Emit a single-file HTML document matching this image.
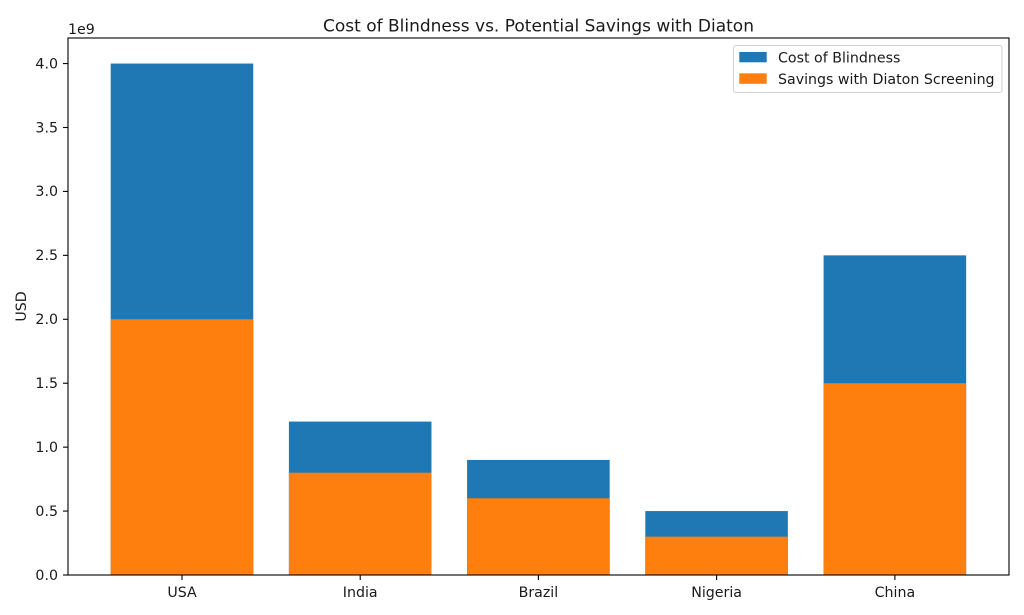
<!DOCTYPE html>
<html>
<head>
<meta charset="utf-8">
<style>
  html,body{margin:0;padding:0;background:#fff;}
  svg{display:block;}
  text{font-family:"DejaVu Sans","Liberation Sans",sans-serif;fill:#1a1a1a;}
</style>
</head>
<body>
<svg width="1024" height="615" viewBox="0 0 1024 615" xmlns="http://www.w3.org/2000/svg">
  <rect width="1024" height="615" fill="#fff"/>
  <!-- bars: cost -->
  <g fill="#1f77b4">
    <rect x="110.7" y="63.56" width="142.56" height="511.44"/>
    <rect x="288.9" y="421.57" width="142.56" height="153.43"/>
    <rect x="467.1" y="459.93" width="142.56" height="115.07"/>
    <rect x="645.3" y="511.07" width="142.56" height="63.93"/>
    <rect x="823.6" y="255.35" width="142.56" height="319.65"/>
  </g>
  <!-- bars: savings -->
  <g fill="#ff7f0e">
    <rect x="110.7" y="319.28" width="142.56" height="255.72"/>
    <rect x="288.9" y="472.71" width="142.56" height="102.29"/>
    <rect x="467.1" y="498.28" width="142.56" height="76.72"/>
    <rect x="645.3" y="536.64" width="142.56" height="38.36"/>
    <rect x="823.6" y="383.21" width="142.56" height="191.79"/>
  </g>
  <!-- axes frame -->
  <rect x="68" y="38" width="941" height="537" fill="none" stroke="#000" stroke-width="1.1"/>
  <!-- y ticks -->
  <g stroke="#000" stroke-width="1.1">
    <line x1="63" y1="575" x2="68" y2="575"/>
    <line x1="63" y1="511.07" x2="68" y2="511.07"/>
    <line x1="63" y1="447.14" x2="68" y2="447.14"/>
    <line x1="63" y1="383.21" x2="68" y2="383.21"/>
    <line x1="63" y1="319.28" x2="68" y2="319.28"/>
    <line x1="63" y1="255.35" x2="68" y2="255.35"/>
    <line x1="63" y1="191.42" x2="68" y2="191.42"/>
    <line x1="63" y1="127.49" x2="68" y2="127.49"/>
    <line x1="63" y1="63.56" x2="68" y2="63.56"/>
    <line x1="182" y1="575" x2="182" y2="580"/>
    <line x1="360.2" y1="575" x2="360.2" y2="580"/>
    <line x1="538.4" y1="575" x2="538.4" y2="580"/>
    <line x1="716.6" y1="575" x2="716.6" y2="580"/>
    <line x1="894.9" y1="575" x2="894.9" y2="580"/>
  </g>
  <g font-size="14.2" text-anchor="end">
    <text x="58" y="580">0.0</text>
    <text x="58" y="516">0.5</text>
    <text x="58" y="452">1.0</text>
    <text x="58" y="388">1.5</text>
    <text x="58" y="324">2.0</text>
    <text x="58" y="260">2.5</text>
    <text x="58" y="196">3.0</text>
    <text x="58" y="132.5">3.5</text>
    <text x="58" y="68.5">4.0</text>
  </g>
  <g font-size="14.2" text-anchor="middle">
    <text x="182" y="597">USA</text>
    <text x="360.2" y="597">India</text>
    <text x="538.4" y="597">Brazil</text>
    <text x="716.6" y="597">Nigeria</text>
    <text x="894.9" y="597">China</text>
  </g>
  <text x="68" y="34" font-size="14.2">1e9</text>
  <text x="0" y="0" font-size="14.2" text-anchor="middle" transform="translate(26,306.5) rotate(-90)">USD</text>
  <text x="538.5" y="31.5" font-size="17" text-anchor="middle">Cost of Blindness vs. Potential Savings with Diaton</text>
  <!-- legend -->
  <rect x="733.5" y="45.5" width="268.5" height="47" rx="2.5" fill="#fff" fill-opacity="0.8" stroke="#d0d0d0" stroke-width="1"/>
  <rect x="739.3" y="52" width="27.4" height="10.3" fill="#1f77b4"/>
  <rect x="739.3" y="73.3" width="27.4" height="10.5" fill="#ff7f0e"/>
  <text x="778" y="62.5" font-size="14.2">Cost of Blindness</text>
  <text x="778" y="84" font-size="14.2">Savings with Diaton Screening</text>
</svg>
</body>
</html>
